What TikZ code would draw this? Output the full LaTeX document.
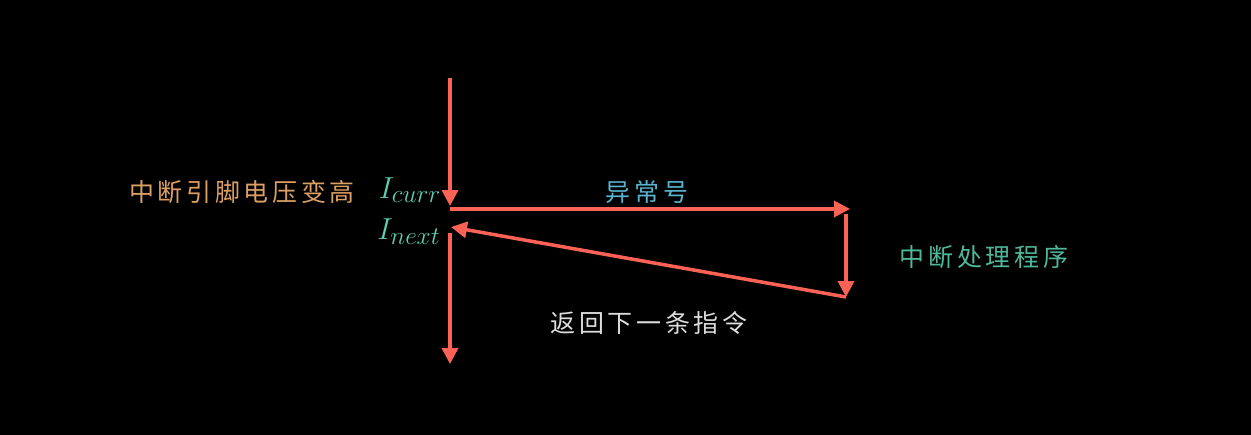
\documentclass[tikz,border=0pt]{standalone}
\usepackage{fontspec}
\usepackage{tikz}
\usetikzlibrary{arrows.meta,positioning}
\newfontfamily\cjk{Noto Sans CJK SC}[LetterSpace=15]
\definecolor{flowred}{HTML}{FC6255}
\definecolor{pinorange}{HTML}{DDA064}
\definecolor{insteal}{HTML}{5CD0B3}
\definecolor{excblue}{HTML}{5AB4CF}
\definecolor{handgreen}{HTML}{4FB89C}
\definecolor{retgray}{HTML}{DDDDDD}

\begin{document}
\begin{tikzpicture}[x=0.02cm, y=-0.02cm,
  lbl/.style={inner sep=0pt, font=\cjk\fontsize{14.2}{15}\selectfont},
  ins/.style={inner sep=0pt, text=insteal, font=\fontsize{19}{20}\selectfont},
  arr/.style={-{Triangle[length=3.2mm,width=3.2mm]}, line width=2pt, draw=flowred}]
\fill[black] (0,0) rectangle (1251,435);
\useasboundingbox (0,0) rectangle (1251,435);
% points on the time line
\coordinate (start) at (450,78);
\coordinate (curr) at (450,206);
\coordinate (jump) at (450,209);
\coordinate (handler) at (850,209);
\coordinate (hstart) at (846,214);
\coordinate (hend) at (846,297);
\coordinate (back) at (451,227);
\coordinate (resume) at (450,233);
\coordinate (finish) at (450,364);
% labels
\node[lbl, text=pinorange] (pin) at (242,192) {中断引脚电压变高};
\node[ins] (icurr) at (410,190) {$I_{curr}$};
\node[ins] (inext) at (409,232) {$I_{next}$};
\node[lbl, text=excblue] (exc) at (647,192) {异常号};
\node[lbl, text=handgreen] (isr) at (984,257) {中断处理程序};
\node[lbl, text=retgray] (ret) at (649,323) {返回下一条指令};
% arrows
\draw[arr] (start) -- (curr);
\draw[arr] (jump) -- (handler);
\draw[arr] (hstart) -- (hend);
\draw[arr] (hend) -- (back);
\draw[arr] (resume) -- (finish);
\end{tikzpicture}
\end{document}
